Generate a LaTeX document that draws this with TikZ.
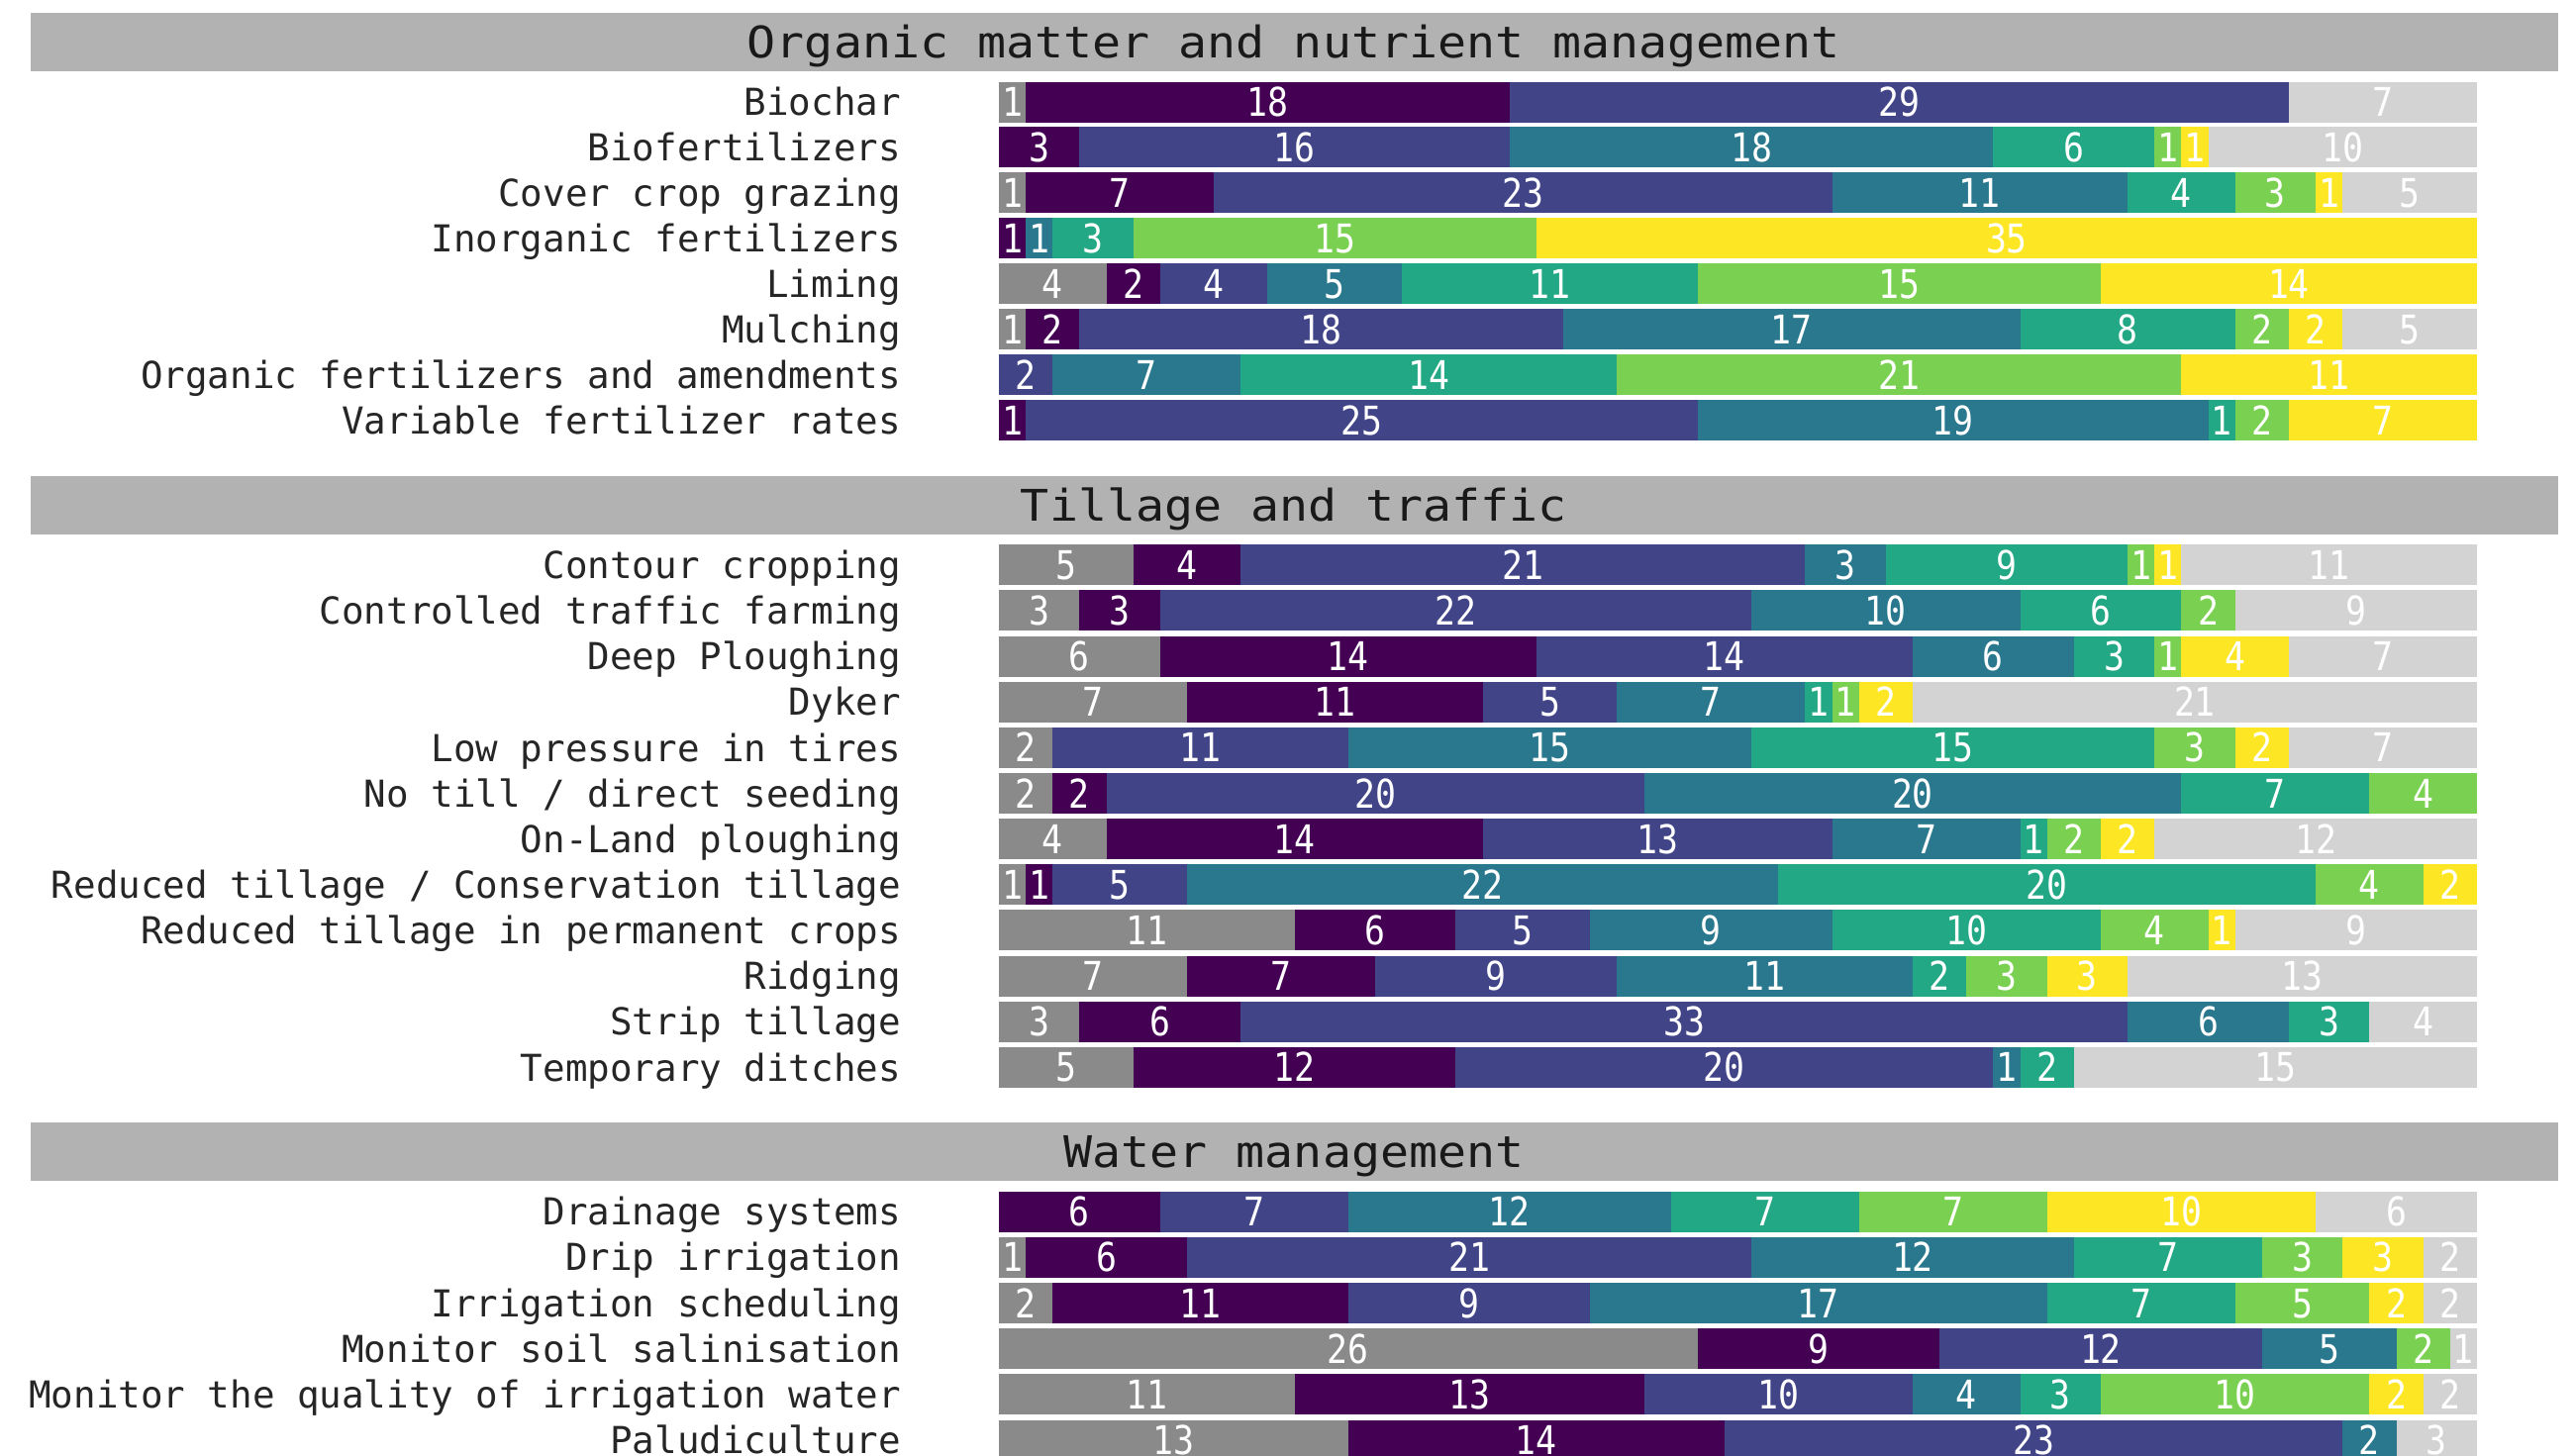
\documentclass[tikz,border=0pt]{standalone}
\usepackage{fontspec}
\setmainfont{DejaVu Sans Mono}
\usepackage{graphicx}
\definecolor{cG}{HTML}{8A8A8A}
\definecolor{cA}{HTML}{440154}
\definecolor{cB}{HTML}{414487}
\definecolor{cC}{HTML}{2A788E}
\definecolor{cD}{HTML}{22A884}
\definecolor{cE}{HTML}{7AD151}
\definecolor{cF}{HTML}{FDE725}
\definecolor{cL}{HTML}{D3D3D3}
\definecolor{hdr}{HTML}{B2B2B2}
\newcommand{\unitw}{27.145}
\newcommand{\chartrow}[4]{%
  \node[lbl] (lab#1) at (910,#2+13.7) {#3};%
  \gdef\xcur{1009}%
  \foreach \cc/\vv [count=\kk] in {#4} {%
    \pgfmathsetmacro\xnext{\xcur+\vv*\unitw}%
    \fill[fill=c\cc] (\xcur,#2-20.5) rectangle (\xnext,#2+20.5);%
    \node[num] (#1-\kk) at ({(\xcur+\xnext)/2},#2+14.6) {\scalebox{0.87}[1]{\vv}};%
    \global\let\xcur\xnext
  }%
}
\newcommand{\sectionhead}[3]{%
  \fill[hdr] (31,#2-29.5) rectangle (2584,#2+29.5);%
  \node[ttl] (#1) at (1307,#2+16) {\scalebox{1.097}[1]{#3}};%
}
\begin{document}
\begin{tikzpicture}[x=1pt,y=-1pt,
  lbl/.style={font=\fontsize{37.5}{40}\selectfont, text=black!85, anchor=base east, inner sep=0pt},
  num/.style={font=\fontsize{40}{40}\selectfont, text=white, anchor=base, inner sep=0pt},
  ttl/.style={font=\fontsize{44}{48}\selectfont, text=black!90, anchor=base, inner sep=0pt}]
\useasboundingbox (0,0) rectangle (2601,1470);
\clip (0,0) rectangle (2601,1470);
\fill[white] (0,0) rectangle (2601,1470);

\sectionhead{h1}{42.5}{Organic matter and nutrient management}
\chartrow{r1}{103}{Biochar}{G/1,A/18,B/29,L/7}
\chartrow{r2}{148.95}{Biofertilizers}{A/3,B/16,C/18,D/6,E/1,F/1,L/10}
\chartrow{r3}{194.9}{Cover crop grazing}{G/1,A/7,B/23,C/11,D/4,E/3,F/1,L/5}
\chartrow{r4}{240.85}{Inorganic fertilizers}{A/1,C/1,D/3,E/15,F/35}
\chartrow{r5}{286.8}{Liming}{G/4,A/2,B/4,C/5,D/11,E/15,F/14}
\chartrow{r6}{332.75}{Mulching}{G/1,A/2,B/18,C/17,D/8,E/2,F/2,L/5}
\chartrow{r7}{378.7}{Organic fertilizers and amendments}{B/2,C/7,D/14,E/21,F/11}
\chartrow{r8}{424.65}{Variable fertilizer rates}{A/1,B/25,C/19,D/1,E/2,F/7}

\sectionhead{h2}{510}{Tillage and traffic}
\chartrow{r9}{570.7}{Contour cropping}{G/5,A/4,B/21,C/3,D/9,E/1,F/1,L/11}
\chartrow{r10}{616.85}{Controlled traffic farming}{G/3,A/3,B/22,C/10,D/6,E/2,L/9}
\chartrow{r11}{663}{Deep Ploughing}{G/6,A/14,B/14,C/6,D/3,E/1,F/4,L/7}
\chartrow{r12}{709.15}{Dyker}{G/7,A/11,B/5,C/7,D/1,E/1,F/2,L/21}
\chartrow{r13}{755.3}{Low pressure in tires}{G/2,B/11,C/15,D/15,E/3,F/2,L/7}
\chartrow{r14}{801.45}{No till / direct seeding}{G/2,A/2,B/20,C/20,D/7,E/4}
\chartrow{r15}{847.6}{On-Land ploughing}{G/4,A/14,B/13,C/7,D/1,E/2,F/2,L/12}
\chartrow{r16}{893.75}{Reduced tillage / Conservation tillage}{G/1,A/1,B/5,C/22,D/20,E/4,F/2}
\chartrow{r17}{939.9}{Reduced tillage in permanent crops}{G/11,A/6,B/5,C/9,D/10,E/4,F/1,L/9}
\chartrow{r18}{986.05}{Ridging}{G/7,A/7,B/9,C/11,D/2,E/3,F/3,L/13}
\chartrow{r19}{1032.2}{Strip tillage}{G/3,A/6,B/33,C/6,D/3,L/4}
\chartrow{r20}{1078.35}{Temporary ditches}{G/5,A/12,B/20,C/1,D/2,L/15}

\sectionhead{h3}{1163.5}{Water management}
\chartrow{r21}{1224}{Drainage systems}{A/6,B/7,C/12,D/7,E/7,F/10,L/6}
\chartrow{r22}{1270.2}{Drip irrigation}{G/1,A/6,B/21,C/12,D/7,E/3,F/3,L/2}
\chartrow{r23}{1316.4}{Irrigation scheduling}{G/2,A/11,B/9,C/17,D/7,E/5,F/2,L/2}
\chartrow{r24}{1362.6}{Monitor soil salinisation}{G/26,A/9,B/12,C/5,E/2,L/1}
\chartrow{r25}{1408.8}{Monitor the quality of irrigation water}{G/11,A/13,B/10,C/4,D/3,E/10,F/2,L/2}
\chartrow{r26}{1455}{Paludiculture}{G/13,A/14,B/23,C/2,L/3}
\end{tikzpicture}
\end{document}
